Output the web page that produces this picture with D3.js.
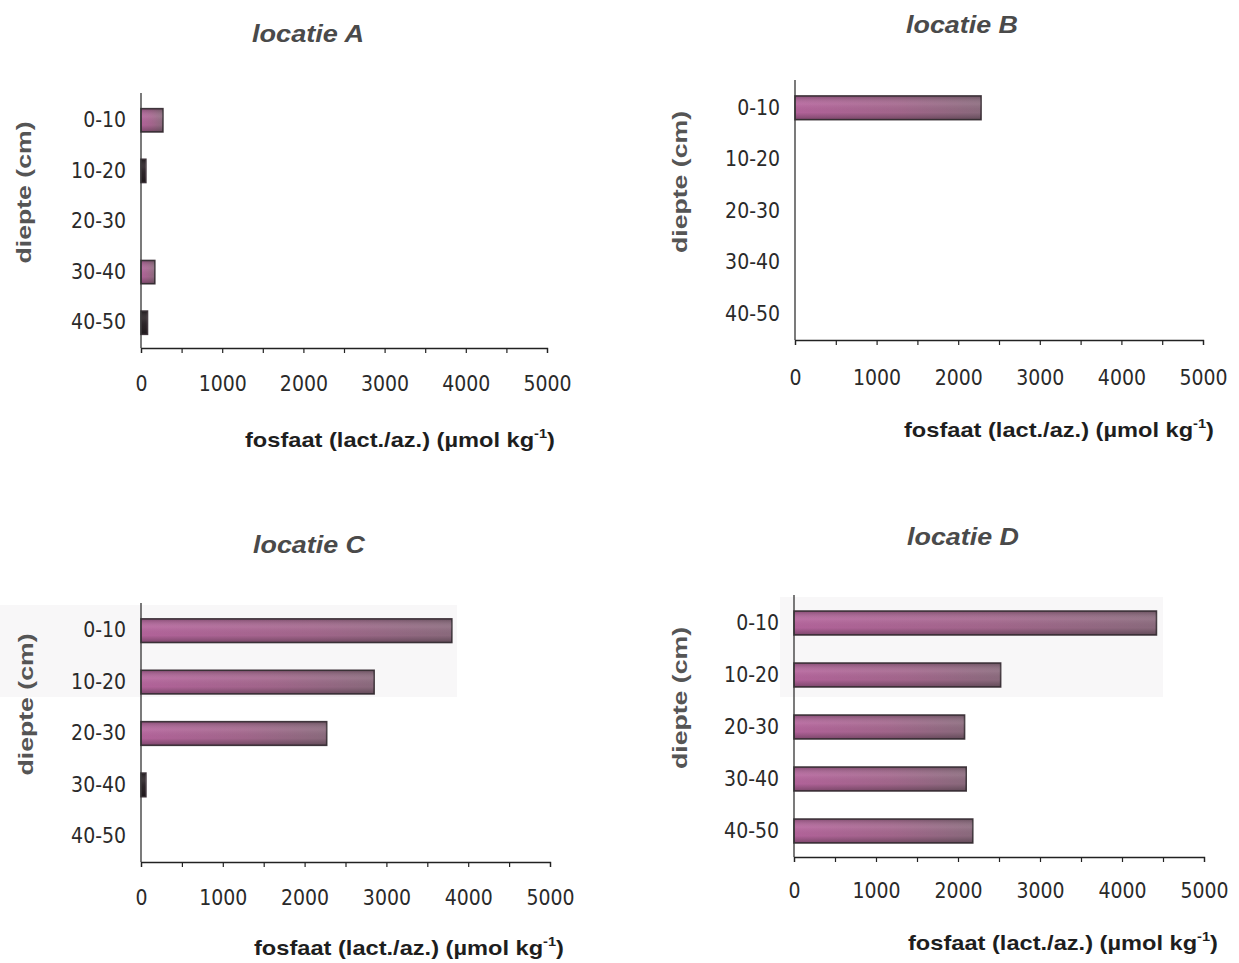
<!DOCTYPE html>
<html>
<head>
<meta charset="utf-8">
<script src="https://cdn.jsdelivr.net/npm/d3@7"></script>
<style>
  html, body { margin: 0; padding: 0; background: #fff; }
  svg { display: block; }
</style>
</head>
<body>
<div id="chart"></div>
<script>
// Fosfaat (lactaat/azijnzuur) per dieptelaag, vier locaties
const depths = ["0-10", "10-20", "20-30", "30-40", "40-50"];
const locatieA = [270, 60, 0, 170, 80];
const locatieB = [2280, 0, 0, 0, 0];
const locatieC = [3800, 2850, 2270, 60, 0];
const locatieD = [4420, 2520, 2080, 2100, 2180];
const xTickValues = [0, 1000, 2000, 3000, 4000, 5000];
const titles = ["locatie A", "locatie B", "locatie C", "locatie D"];
const xMax = 5000;

const W = 1239, H = 963;
const svg = d3.select("#chart").append("svg")
  .attr("width", W).attr("height", H)
  .attr("viewBox", `0 0 ${W} ${H}`);

// bar fill: pink at the base, greyish mauve towards the end
const defs = svg.append("defs");
const grad = defs.append("linearGradient").attr("id", "barH")
  .attr("x1", 0).attr("y1", 0).attr("x2", 1).attr("y2", 0);
grad.append("stop").attr("offset", "0%").attr("stop-color", "#b5649c");
grad.append("stop").attr("offset", "55%").attr("stop-color", "#a4678d");
grad.append("stop").attr("offset", "100%").attr("stop-color", "#8c6b7e");
const gradV = defs.append("linearGradient").attr("id", "barV")
  .attr("x1", 0).attr("y1", 0).attr("x2", 0).attr("y2", 1);
gradV.append("stop").attr("offset", "0%").attr("stop-color", "#000").attr("stop-opacity", 0.25);
gradV.append("stop").attr("offset", "35%").attr("stop-color", "#fff").attr("stop-opacity", 0.08);
gradV.append("stop").attr("offset", "70%").attr("stop-color", "#000").attr("stop-opacity", 0.02);
gradV.append("stop").attr("offset", "100%").attr("stop-color", "#000").attr("stop-opacity", 0.3);

const panels = [
  { values: locatieA, title: titles[0], left: 141, right: 547, top: 95, bottom: 348,
    titleX: 308, titleY: 42, ylabX: 31, xlabX: 400, xlabY: 447, tickPad: 23, patch: null },
  { values: locatieB, title: titles[1], left: 795, right: 1203, top: 82, bottom: 340,
    titleX: 962, titleY: 33, ylabX: 687, xlabX: 1059, xlabY: 437, tickPad: 25, patch: null },
  { values: locatieC, title: titles[2], left: 141, right: 550, top: 605, bottom: 862,
    titleX: 309, titleY: 553, ylabX: 33, xlabX: 409, xlabY: 955, tickPad: 23,
    patch: [0, 605, 457, 92] },
  { values: locatieD, title: titles[3], left: 794, right: 1204, top: 597, bottom: 857,
    titleX: 963, titleY: 545, ylabX: 687, xlabX: 1063, xlabY: 950, tickPad: 21,
    patch: [780, 597, 383, 100] }
];

const tickFont = "'Liberation Sans Narrow', 'DejaVu Sans Condensed', 'Liberation Sans', Arial, sans-serif";
const boldFont = "'Liberation Sans', Arial, sans-serif";

panels.forEach(p => {
  const g = svg.append("g");

  if (p.patch) {
    g.append("rect")
      .attr("x", p.patch[0]).attr("y", p.patch[1])
      .attr("width", p.patch[2]).attr("height", p.patch[3])
      .attr("fill", "#f8f7f8");
  }

  const x = d3.scaleLinear().domain([0, xMax]).range([p.left, p.right]);
  const y = d3.scaleBand().domain(depths).range([p.top, p.bottom]).paddingInner(0.54).paddingOuter(0.27);

  // bars
  const rows = depths.map((d, i) => ({ depth: d, value: p.values[i] })).filter(r => r.value > 0);
  const bars = g.append("g");
  bars.selectAll("rect.fill").data(rows).join("rect")
    .attr("class", "fill")
    .attr("x", x(0)).attr("y", d => y(d.depth))
    .attr("width", d => x(d.value) - x(0))
    .attr("height", y.bandwidth())
    .attr("fill", d => (x(d.value) - x(0)) < 8 ? "#2a2226" : "url(#barH)")
    .attr("stroke", "#453a41").attr("stroke-width", 1.6);
  bars.selectAll("rect.shade").data(rows).join("rect")
    .attr("class", "shade")
    .attr("x", x(0)).attr("y", d => y(d.depth))
    .attr("width", d => x(d.value) - x(0))
    .attr("height", y.bandwidth())
    .attr("fill", "url(#barV)");

  // x axis: ticks every 500, labels every 1000
  const xAxis = d3.axisBottom(x)
    .tickValues(d3.range(0, xMax + 1, 500))
    .tickSize(5).tickPadding(p.tickPad)
    .tickFormat(v => xTickValues.includes(v) ? String(v) : "");
  const gx = g.append("g").attr("transform", `translate(0,${p.bottom})`).call(xAxis);
  gx.select(".domain").attr("stroke", "#222").attr("stroke-width", 1.3);
  gx.selectAll(".tick line").attr("stroke", "#222").attr("stroke-width", 1.2);
  gx.selectAll(".tick text")
    .attr("font-family", tickFont).attr("font-size", 21).attr("fill", "#2a2a2a");

  // y axis
  const yAxis = d3.axisLeft(y).tickSize(0).tickPadding(15);
  const gy = g.append("g").attr("transform", `translate(${p.left},0)`).call(yAxis);
  gy.select(".domain").attr("stroke", "#333").attr("stroke-width", 1.3)
    .attr("d", `M0,${p.top - 2}V${p.bottom}`);
  gy.selectAll(".tick text")
    .attr("font-family", tickFont).attr("font-size", 21).attr("fill", "#2a2a2a");

  // title
  g.append("text")
    .attr("x", p.titleX).attr("y", p.titleY)
    .attr("text-anchor", "middle")
    .attr("font-family", boldFont).attr("font-weight", "bold").attr("font-style", "italic")
    .attr("font-size", 23).attr("fill", "#4a4a4a")
    .attr("textLength", 112).attr("lengthAdjust", "spacingAndGlyphs")
    .text(p.title);

  // y label
  g.append("text")
    .attr("transform", `translate(${p.ylabX},${(p.top + p.bottom) / 2 - 29}) rotate(-90)`)
    .attr("text-anchor", "middle")
    .attr("font-family", boldFont).attr("font-weight", "bold")
    .attr("font-size", 21).attr("fill", "#555")
    .attr("textLength", 142).attr("lengthAdjust", "spacingAndGlyphs")
    .text("diepte (cm)");

  // x label with superscript
  const xl = g.append("text")
    .attr("x", p.xlabX).attr("y", p.xlabY)
    .attr("text-anchor", "middle")
    .attr("font-family", boldFont).attr("font-weight", "bold")
    .attr("font-size", 21).attr("fill", "#1e1e1e")
    .attr("textLength", 310).attr("lengthAdjust", "spacingAndGlyphs");
  xl.append("tspan").text("fosfaat (lact./az.) (µmol kg");
  xl.append("tspan").attr("dy", -9).attr("font-size", 13).text("-1");
  xl.append("tspan").attr("dy", 9).text(")");
});
</script>
</body>
</html>
